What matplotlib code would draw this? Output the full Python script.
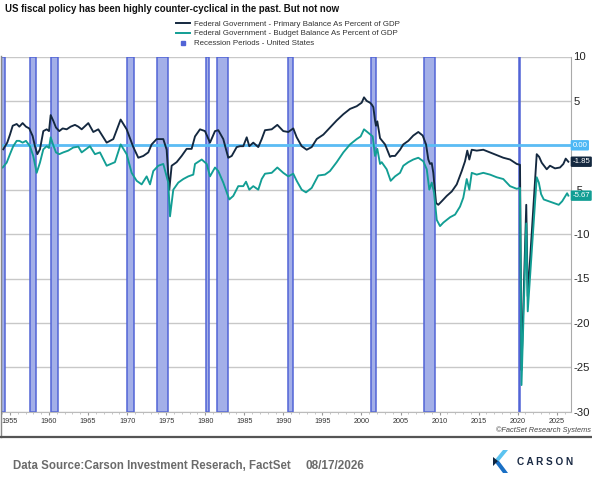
import matplotlib
matplotlib.use("Agg")
import matplotlib.pyplot as plt
from matplotlib.lines import Line2D
from matplotlib.patches import Polygon
import matplotlib.transforms as mtransforms
import numpy as np

plt.rcParams['font.family'] = ['Liberation Sans', 'DejaVu Sans']
plt.rcParams['axes.unicode_minus'] = False

# values (% of GDP)
primary_years = [1954.14, 1954.65, 1955.0, 1955.35, 1955.86, 1956.2, 1956.62, 1957.05, 1957.47, 1957.9,
                 1958.2, 1958.5, 1958.84, 1959.27, 1959.7, 1960.0, 1960.21, 1960.55, 1960.89, 1961.31,
                 1961.75, 1962.26, 1962.77, 1963.32, 1963.75, 1964.18, 1965.03, 1965.67, 1966.31, 1967.38,
                 1968.23, 1969.17, 1969.94, 1970.79, 1971.43, 1972.07, 1972.71, 1973.14, 1973.78, 1974.63,
                 1975.06, 1975.40, 1975.70, 1976.34, 1976.98, 1977.62, 1978.26, 1978.69, 1979.33, 1979.97,
                 1980.61, 1981.25, 1981.67, 1982.31, 1982.95, 1983.39, 1984.03, 1984.45, 1984.87, 1985.31,
                 1985.64, 1986.15, 1986.79, 1987.23, 1987.65, 1988.51, 1989.23, 1989.99, 1990.63, 1991.27,
                 1991.71, 1992.35, 1992.99, 1993.63, 1994.27, 1995.12, 1995.97, 1996.83, 1997.68, 1998.54,
                 1999.39, 2000.03, 2000.33, 2000.67, 2001.09, 2001.31, 2001.52, 2001.74, 2001.86, 2002.03,
                 2002.38, 2003.02, 2003.66, 2003.87, 2004.30, 2004.94, 2005.36, 2006.00, 2006.64, 2007.28,
                 2007.84, 2008.27, 2008.56, 2008.78, 2009.00, 2009.20, 2009.55, 2009.84, 2010.28, 2010.92,
                 2011.56, 2012.20, 2012.84, 2013.26, 2013.55, 2013.81, 2014.12, 2014.76, 2015.60, 2016.46,
                 2017.32, 2018.16, 2019.02, 2019.88, 2020.30, 2020.49, 2021.10, 2021.29, 2022.44, 2022.75,
                 2023.08, 2023.72, 2024.14, 2024.78, 2025.42, 2025.85, 2026.15, 2026.49]
primary_vals = [-0.45, 0.3, 1.2, 2.2, 2.4, 2.1, 2.5, 2.1, 1.9, 1.05,
                -0.1, -1.0, -0.45, 1.6, 1.8, 1.6, 3.4, 2.75, 2.0, 1.6,
                1.9, 1.8, 2.1, 2.3, 2.1, 1.8, 2.5, 1.5, 1.8, 0.3,
                0.7, 2.9, 1.8, -0.2, -1.4, -1.2, -0.8, 0.1, 0.7, 0.7,
                -0.5, -5.0, -2.3, -1.9, -1.2, -0.4, -0.4, 1.0, 1.8, 1.6,
                0.3, 1.6, 1.7, 0.7, -1.4, -1.2, -0.2, -0.1, -0.1, 0.9,
                -0.1, 0.3, -0.2, 0.7, 1.7, 1.8, 2.3, 1.6, 1.5, 1.9,
                0.9, -0.1, -0.5, -0.2, 0.7, 1.2, 2.0, 2.8, 3.5, 4.1,
                4.4, 4.8, 5.4, 5.0, 4.8, 4.6, 4.3, 2.8, 2.2, 2.7,
                0.8, 0.1, -1.3, -1.2, -1.2, -0.5, 0.1, 0.5, 1.1, 1.5,
                1.1, 0.1, -1.6, -2.1, -2.0, -3.1, -6.5, -6.7, -6.3, -5.7,
                -5.2, -4.4, -2.9, -1.8, -0.6, -1.6, -0.5, -0.6, -0.5, -0.8,
                -1.1, -1.4, -1.6, -2.1, -2.2, -25.3, -6.7, -17.0, -1.0, -1.3,
                -1.96, -2.7, -2.3, -2.6, -2.5, -2.1, -1.5, -1.85]

budget_years = [1954.07, 1954.58, 1955.0, 1955.42, 1955.86, 1956.2, 1956.62, 1957.05, 1957.56, 1957.98,
                1958.42, 1958.84, 1959.27, 1959.7, 1960.0, 1960.21, 1960.55, 1960.89, 1961.31, 1961.82,
                1962.46, 1963.1, 1963.75, 1964.18, 1965.24, 1965.88, 1966.52, 1967.38, 1968.44, 1969.17,
                1969.94, 1970.58, 1971.22, 1971.86, 1972.50, 1972.93, 1973.35, 1973.99, 1974.63, 1975.27,
                1975.49, 1975.91, 1976.55, 1977.19, 1977.83, 1978.47, 1978.69, 1979.55, 1980.19, 1980.61,
                1981.25, 1981.67, 1982.31, 1983.08, 1983.59, 1984.23, 1984.87, 1985.22, 1985.64, 1986.15,
                1986.79, 1987.23, 1987.65, 1988.51, 1989.23, 1989.99, 1990.63, 1991.27, 1991.71, 1992.35,
                1992.90, 1993.63, 1994.47, 1995.33, 1995.97, 1996.83, 1997.68, 1998.54, 1999.39, 1999.90,
                2000.33, 2000.88, 2001.44, 2001.74, 2002.03, 2002.38, 2002.59, 2003.23, 2003.74, 2004.30,
                2004.94, 2005.36, 2006.00, 2006.64, 2007.28, 2007.92, 2008.36, 2008.69, 2009.00, 2009.29,
                2009.64, 2010.06, 2010.49, 2011.35, 2011.99, 2012.62, 2013.04, 2013.48, 2013.81, 2014.12,
                2014.76, 2015.60, 2016.46, 2017.32, 2018.16, 2019.02, 2019.88, 2020.30, 2020.49, 2021.10,
                2021.29, 2022.44, 2022.71, 2023.00, 2023.34, 2023.98, 2024.62, 2025.26, 2025.70, 2026.11,
                2026.33, 2026.49]
budget_vals = [-2.5, -1.95, -1.0, -0.1, 0.5, 0.5, 0.3, 0.5, -0.1, -1.2,
               -3.1, -1.95, -0.45, -0.1, -0.3, 0.9, 0.0, -0.8, -1.0, -0.8,
               -0.6, -0.25, -0.15, -0.8, -0.1, -1.0, -0.8, -2.3, -1.9, 0.1,
               -1.0, -3.1, -4.0, -4.4, -3.5, -4.4, -2.9, -2.3, -2.1, -4.2,
               -8.0, -5.0, -4.2, -3.8, -3.5, -3.3, -2.1, -1.6, -2.1, -3.5,
               -2.5, -2.9, -4.2, -6.1, -5.7, -4.6, -4.6, -4.1, -5.0, -4.6,
               -5.0, -3.8, -3.2, -3.1, -2.5, -3.1, -3.5, -3.2, -4.0, -5.0,
               -5.3, -4.8, -3.4, -3.3, -2.9, -1.9, -0.8, 0.1, 0.7, 1.0,
               1.8, 1.4, 1.0, -1.2, -0.4, -2.1, -1.9, -2.7, -4.0, -3.5,
               -3.1, -2.3, -1.9, -1.6, -1.4, -1.8, -2.7, -5.0, -4.2, -5.3,
               -8.4, -9.1, -8.7, -8.1, -7.8, -6.9, -5.9, -3.8, -5.0, -3.1,
               -3.3, -3.1, -3.3, -3.6, -3.8, -4.6, -4.9, -4.8, -27.0, -8.8,
               -18.7, -3.6, -4.2, -5.5, -6.1, -6.3, -6.5, -6.7, -6.3, -5.7,
               -5.4, -5.67]

recession_start = [1953.54, 1957.62, 1960.29, 1969.96, 1973.87, 1980.04, 1981.54, 1990.54, 2001.21, 2007.96, 2020.12]
recession_end = [1954.37, 1958.29, 1961.12, 1970.87, 1975.21, 1980.54, 1982.87, 1991.21, 2001.87, 2009.46, 2020.29]

y_ticks = [-30, -25, -20, -15, -10, -5, 0, 5, 10]
y_tick_labels = ["-30", "-25", "-20", "-15", "-10", "-5", "", "5", "10"]

last_labels = [(0.0, "0.00", "#4db8f5"), (-1.85, "-1.85", "#14283f"), (-5.67, "-5.67", "#129e94")]

W, H = 592, 484
navy = "#14283f"
teal = "#129e94"
zero_blue = "#5bbcf5"

fig = plt.figure(figsize=(W / 100, H / 100), dpi=100)
ax = fig.add_axes([2 / W, 1 - 411.7 / H, (570.7 - 2) / W, (411.7 - 56.5) / H])

for s, e in zip(recession_start, recession_end):
    ax.axvspan(s, e, facecolor="#a3afe8", edgecolor="#5264d6", lw=1.1, zorder=1)

ax.axhline(0, color=zero_blue, lw=2, zorder=2)
ax.plot(primary_years, primary_vals, color=navy, lw=1.35, zorder=3)
ax.plot(budget_years, budget_vals, color=teal, lw=1.35, zorder=4)

ax.set_xlim(1953.98, 2026.79)
ax.set_ylim(-30, 10)
ax.set_yticks(y_ticks)
ax.set_yticklabels(y_tick_labels)
ax.set_xticks(np.arange(1955, 2026, 5))
ax.set_xticks(np.arange(1954, 2027, 1), minor=True)
ax.yaxis.tick_right()
ax.tick_params(axis="y", length=0, labelsize=8.2, labelcolor="#222222", pad=2)
ax.tick_params(axis="x", which="major", length=2.5, color="#999999", labelsize=5.2,
               labelcolor="#333333", pad=2)
ax.tick_params(axis="x", which="minor", length=1.5, color="#bbbbbb")
ax.yaxis.grid(True, color="#c8c8c8", lw=1)
ax.set_axisbelow(True)
for side in ["top", "left"]:
    ax.spines[side].set_visible(False)
ax.spines["bottom"].set_color("#bbbbbb")
ax.spines["right"].set_color("#aaaaaa")

trans = mtransforms.blended_transform_factory(ax.transAxes, ax.transData)
for val, txt, col in last_labels:
    ax.text(1.003, val, txt, transform=trans, ha="left", va="center", fontsize=5.6,
            color="white", zorder=10, clip_on=False,
            bbox=dict(boxstyle="round,pad=0.22,rounding_size=0.15", fc=col, ec="none"))

handles = [Line2D([], [], color=navy, lw=1.4),
           Line2D([], [], color=teal, lw=1.4),
           Line2D([], [], color="#5264d6", marker="s", markersize=3.5, linestyle="None")]
labels = ["Federal Government - Primary Balance As Percent of GDP",
          "Federal Government - Budget Balance As Percent of GDP",
          "Recession Periods - United States"]
fig.legend(handles, labels, loc="upper left", bbox_to_anchor=(176 / W, 1 - 20 / H),
           frameon=False, fontsize=5.7, handlelength=1.75, handletextpad=0.55,
           labelspacing=0.3, borderaxespad=0, borderpad=0, labelcolor="#333333")

fig.text(5 / W, 1 - 9.5 / H, "US fiscal policy has been highly counter-cyclical in the past. But not now",
         fontsize=6.9, fontweight="bold", color="#111111", va="center", ha="left")
fig.text(591 / W, 1 - 430 / H, "\u00a9FactSet Research Systems", fontsize=5.3, style="italic",
         color="#444444", ha="right", va="center")

# outer frame lines
fig.add_artist(Line2D([0.8 / W, 0.8 / W], [1 - 56 / H, 1 - 437 / H], color="#888888", lw=1))
fig.add_artist(Line2D([0, 1], [1 - 437 / H, 1 - 437 / H], color="#555555", lw=1.6))

# footer
fig.text(13 / W, 1 - 466 / H, "Data Source:Carson Investment Reserach, FactSet", fontsize=8.3,
         fontweight="bold", color="#6b6b6b", va="center", ha="left")
fig.text(305 / W, 1 - 466 / H, "08/17/2026", fontsize=8.5, fontweight="bold", color="#6b6b6b",
         va="center", ha="left")

# Carson logo
def px(pts):
    return [(x / W, 1 - y / H) for x, y in pts]

fig.add_artist(Polygon(px([(503, 450), (508, 450), (499, 461), (494, 461)]), closed=True,
                       fc="#5cc3f0", ec="none", transform=fig.transFigure))
fig.add_artist(Polygon(px([(494, 461), (499, 461), (508, 473), (503, 473)]), closed=True,
                       fc="#1a6fc4", ec="none", transform=fig.transFigure))
fig.add_artist(Polygon(px([(493, 457), (498, 461), (493, 466)]), closed=True,
                       fc="#0f2540", ec="none", transform=fig.transFigure))
fig.text(517 / W, 1 - 462 / H, "C A R S O N", fontsize=7.2, fontweight="bold", color="#1a2a44",
         va="center", ha="left")

fig.savefig("out.png", dpi=100)
